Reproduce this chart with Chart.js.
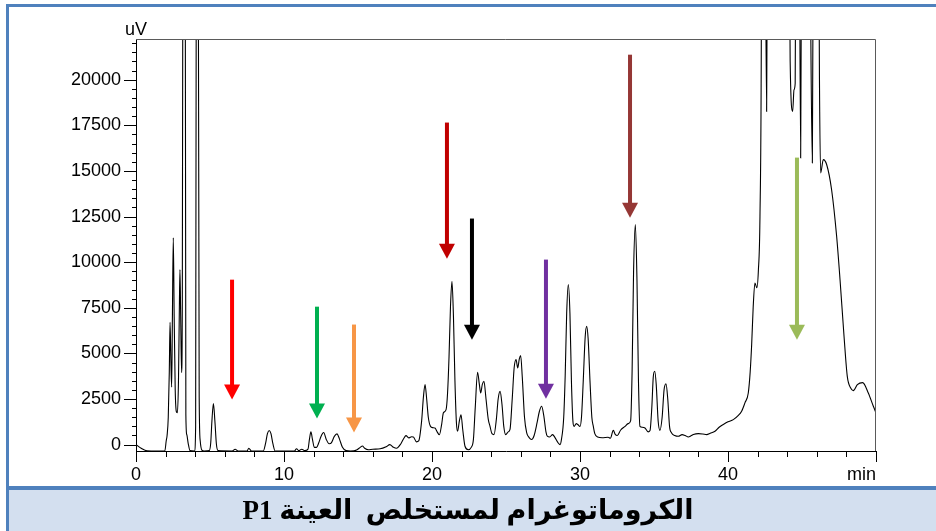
<!DOCTYPE html>
<html>
<head>
<meta charset="utf-8">
<script src="https://cdn.jsdelivr.net/npm/chart.js@4.4.1/dist/chart.umd.min.js"></script>
<style>
  html, body { margin: 0; padding: 0; background: #ffffff; }
  #wrap { position: relative; width: 936px; height: 531px; }
  canvas { display: block; }
</style>
</head>
<body>
<div id="wrap"><canvas id="chrom" width="936" height="531"></canvas></div>
<script>
// Retention time (min) of each sampled point of the trace
const retentionTimes = [
  0.00, 0.35, 0.75, 1.40, 1.95, 2.04, 2.10, 2.18, 2.25, 2.30, 2.36, 2.41, 2.46, 2.52, 2.58, 2.65,
  2.73, 2.80, 2.87, 2.93, 2.97, 3.02, 3.08, 3.13, 3.19, 3.25, 3.31, 3.37, 3.43, 3.52, 3.65, 3.95,
  4.03, 4.09, 4.14, 4.20, 4.27, 4.34, 4.45, 4.60, 4.95, 5.05, 5.13, 5.23, 5.33, 5.43, 5.55, 6.50,
  6.70, 6.90, 7.50, 7.62, 7.80, 8.60, 8.75, 8.88, 9.00, 9.12, 9.25, 9.40, 10.70, 10.85, 11.00, 11.20,
  11.40, 11.62, 11.72, 11.82, 11.92, 12.05, 12.20, 12.35, 12.50, 12.68, 12.85, 13.05, 13.20, 13.40, 13.58, 13.75,
  13.95, 14.20, 14.50, 14.90, 15.15, 15.30, 15.45, 15.70, 16.00, 16.50, 16.90, 17.15, 17.40, 17.60, 17.90, 18.10,
  18.24, 18.45, 18.62, 18.74, 18.95, 19.10, 19.30, 19.42, 19.53, 19.64, 19.75, 19.90, 20.05, 20.20, 20.35, 20.50,
  20.65, 20.77, 20.95, 21.05, 21.15, 21.25, 21.35, 21.45, 21.55, 21.65, 21.73, 21.85, 21.96, 22.08, 22.23, 22.45,
  22.65, 22.80, 22.92, 23.08, 23.20, 23.29, 23.40, 23.51, 23.65, 23.80, 23.92, 24.05, 24.19, 24.35, 24.47, 24.60,
  24.73, 24.85, 24.98, 25.15, 25.27, 25.42, 25.55, 25.68, 25.79, 25.90, 25.99, 26.10, 26.25, 26.40, 26.55, 26.73,
  26.90, 27.10, 27.25, 27.41, 27.55, 27.70, 27.79, 27.95, 28.15, 28.30, 28.53, 28.65, 28.75, 28.90, 29.00, 29.10,
  29.21, 29.32, 29.42, 29.52, 29.60, 29.75, 29.85, 30.00, 30.10, 30.22, 30.35, 30.45, 30.55, 30.68, 30.80, 30.90,
  31.00, 31.19, 31.50, 31.90, 32.05, 32.25, 32.38, 32.52, 32.75, 33.04, 33.25, 33.42, 33.52, 33.62, 33.74, 33.85,
  33.95, 34.05, 34.20, 34.39, 34.60, 34.73, 34.85, 34.95, 35.05, 35.15, 35.28, 35.40, 35.55, 35.68, 35.81, 35.93,
  36.05, 36.19, 36.40, 36.64, 36.90, 37.10, 37.32, 37.50, 37.66, 38.00, 38.30, 38.56, 38.80, 39.12, 39.40, 39.68,
  40.00, 40.36, 40.70, 40.92, 41.15, 41.37, 41.50, 41.60, 41.70, 41.82, 41.95, 42.05, 42.16, 42.25, 42.32, 42.45,
  42.61, 42.72, 42.85, 43.50, 44.05, 44.20, 44.37, 44.46, 44.54, 44.64, 44.70, 44.80, 44.91, 45.02, 45.20, 45.47,
  45.60, 45.70, 45.81, 45.95, 46.06, 46.18, 46.26, 46.44, 46.67, 47.00, 47.34, 47.57, 47.84, 48.06, 48.29, 48.47,
  48.74, 49.10, 49.48, 49.82, 50.00
];

// Detector signal (uV) at each retention time; peaks running past the top are estimated
const signalUV = [
  0, -200, -340, -350, -340, 200, 500, 1500, 4000, 6700, 4500, 3150, 7000, 11340, 7000, 3000,
  1800, 1750, 3500, 7500, 9590, 7000, 3950, 8000, 40000, 90000, 40000, 1600, 550, 100, -330, -350,
  1000, 40000, 90000, 30000, 2600, 200, -300, -350, -330, 100, 1300, 2250, 1300, 50, -330, -350,
  -250, -350, -350, -200, -350, -350, 50, 600, 770, 600, 50, -350, -350, -230, -330, -250,
  -330, -250, 300, 700, 300, -150, -150, 100, 450, 660, 300, 50, 100, 450, 590, 300,
  -150, -330, -350, -300, -150, -80, -200, -280, -250, -230, -120, 0, -150, -200, 50, 350,
  490, 370, 430, 420, 150, 200, 1300, 2600, 3290, 2500, 1500, 1000, 930, 910, 700, 540,
  1100, 1740, 1920, 2800, 4800, 7600, 8950, 7000, 3500, 1200, 730, 1300, 1640, 800, -90, -280,
  -150, 300, 2000, 3960, 3300, 2830, 3300, 3470, 2500, 1400, 1000, 600, 550, 1400, 2500, 2920,
  2200, 1000, 550, 700, 830, 2500, 4200, 4660, 4200, 4700, 4880, 3700, 1500, 640, 400, 280,
  500, 1200, 1800, 2100, 1600, 700, 460, 420, 550, 400, 90, 0, 300, 1500, 3800, 7200,
  8770, 7200, 3500, 1300, 1000, 1150, 1100, 1000, 1500, 3500, 5900, 6480, 5800, 3400, 1500, 1000,
  600, 420, 380, 400, 350, 780, 560, 500, 800, 1000, 1150, 1300, 4000, 9500, 12060, 9000,
  3500, 1000, 950, 910, 700, 770, 2000, 3700, 4020, 3300, 1300, 780, 1500, 3000, 3330, 2500,
  1000, 640, 500, 456, 550, 500, 420, 480, 550, 600, 580, 548, 620, 730, 950, 1100,
  1250, 1370, 1600, 1830, 2300, 2830, 4000, 5500, 7500, 8860, 8600, 9500, 12500, 22000, 50000, 40000,
  18260, 40000, 70000, 70000, 40000, 21000, 18260, 19450, 19800, 40000, 60000, 35000, 15710, 40000, 70000, 40000,
  22000, 15440, 40000, 70000, 40000, 20000, 14890, 15620, 15340, 13970, 11420, 9040, 5940, 3740, 3100, 2960,
  3290, 3400, 2830, 2100, 1740
];

// Marked compounds: retention time, arrow start (uV) and arrow tip (uV)
const markerTimes = [6.49, 12.23, 14.73, 21.01, 22.70, 27.70, 33.38, 44.66];
const markerFrom  = [9040, 7560, 6580, 17650, 12390, 10140, 21370, 15730];
const markerTo    = [2470, 1430, 660, 10190, 5750, 2520, 12440, 5750];
const markerColors = ['#FF0000', '#00B050', '#F79646', '#C00000', '#000000', '#7030A0', '#953735', '#9BBB59'];

// Axis settings: labelled ticks every 10 min / 2500 uV, minor marks every 2 min / 500 uV
const xMin = 0, xMax = 50, xStep = 2, xLabelEvery = 10;
const yMin = -350, yMax = 22230, yStep = 500, yLabelEvery = 2500;
const xUnit = 'min', yUnit = 'uV';
const chartTitle = '\u202Bالكروماتوغرام لمستخلص  العينة P1\u202C';

const FONT = "'Liberation Sans', Arial, sans-serif";
Chart.defaults.font.family = FONT;
Chart.defaults.color = '#000000';

const points = retentionTimes.map((t, i) => ({ x: t, y: signalUV[i] }));

function stepTicks(lo, hi, step) {
  const out = [];
  for (let v = Math.ceil(lo / step) * step; v <= hi; v += step) out.push({ value: v });
  return out;
}

const decor = {
  id: 'decor',
  beforeDraw(chart) {
    const c = chart.ctx;
    c.save();
    c.fillStyle = '#ffffff';
    c.fillRect(0, 0, chart.width, chart.height);
    // caption band
    c.fillStyle = '#D3DFEF';
    c.fillRect(9, 490, chart.width - 9, chart.height - 490);
    // page frame
    c.fillStyle = '#4F81BD';
    c.fillRect(6, 486, chart.width - 6, 4);
    c.fillRect(6, 4, chart.width - 6, 3);
    c.fillRect(6, 4, 3, chart.height - 4);
    c.restore();
  },
  afterDatasetsDraw(chart) {
    const c = chart.ctx;
    const xs = chart.scales.x, ys = chart.scales.y;
    c.save();
    markerTimes.forEach((t, i) => {
      const x = xs.getPixelForValue(t);
      const y0 = ys.getPixelForValue(markerFrom[i]);
      const y1 = ys.getPixelForValue(markerTo[i]);
      const headH = 15, headW = 16, shaft = 4;
      c.fillStyle = markerColors[i];
      c.fillRect(x - shaft / 2, y0, shaft, (y1 - headH) - y0 + 1);
      c.beginPath();
      c.moveTo(x - headW / 2, y1 - headH);
      c.lineTo(x + headW / 2, y1 - headH);
      c.lineTo(x, y1);
      c.closePath();
      c.fill();
    });
    c.restore();
  },
  afterDraw(chart) {
    const c = chart.ctx;
    const a = chart.chartArea;
    const xs = chart.scales.x, ys = chart.scales.y;
    c.save();
    // plot frame (top and right)
    c.strokeStyle = '#5a5a5a';
    c.lineWidth = 1;
    c.beginPath();
    c.moveTo(a.left, a.top + 0.5);
    c.lineTo(a.right - 0.5, a.top + 0.5);
    c.lineTo(a.right - 0.5, a.bottom);
    c.stroke();
    // tick marks
    c.strokeStyle = '#000000';
    c.beginPath();
    stepTicks(yMin, yMax, yStep).forEach(tk => {
      const y = Math.round(ys.getPixelForValue(tk.value)) + 0.5;
      const major = tk.value % yLabelEvery === 0;
      c.moveTo(a.left - (major ? 12 : 4), y);
      c.lineTo(a.left + 1, y);
    });
    stepTicks(xMin, xMax, xStep).forEach(tk => {
      const x = Math.round(xs.getPixelForValue(tk.value)) + 0.5;
      const major = tk.value % xLabelEvery === 0;
      c.moveTo(x, a.bottom + 1);
      c.lineTo(x, a.bottom + (major ? 11 : 6));
    });
    c.stroke();
    // unit labels
    c.fillStyle = '#000000';
    c.font = '18px ' + FONT;
    c.textBaseline = 'alphabetic';
    c.textAlign = 'center';
    c.fillText(yUnit, a.left, 35);
    c.textAlign = 'right';
    c.fillText(xUnit, a.right, 480);
    c.restore();
  }
};

new Chart(document.getElementById('chrom'), {
  type: 'line',
  data: {
    datasets: [{
      data: points,
      borderColor: '#000000',
      borderWidth: 1.1,
      pointRadius: 0,
      fill: false,
      cubicInterpolationMode: 'monotone'
    }]
  },
  options: {
    responsive: false,
    animation: false,
    devicePixelRatio: 1,
    layout: { padding: { top: 39, left: 0, right: 0, bottom: 0 } },
    plugins: {
      legend: { display: false },
      tooltip: { enabled: false },
      title: {
        display: true,
        position: 'bottom',
        text: chartTitle,
        color: '#000000',
        font: { family: "'Liberation Serif', 'DejaVu Sans', serif", size: 27, weight: 'bold' },
        padding: { top: 6, bottom: 3 }
      }
    },
    scales: {
      x: {
        type: 'linear',
        min: xMin, max: xMax,
        grid: { display: false, drawTicks: false },
        border: { display: true, color: '#000000', width: 1 },
        ticks: {
          autoSkip: false,
          maxRotation: 0,
          padding: 13,
          font: { size: 18 },
          callback: v => (v < xMax) ? String(v) : ''
        },
        afterBuildTicks: s => { s.ticks = stepTicks(xMin, xMax, xLabelEvery); },
        afterFit: s => { s.height = 531 - 451 - (27 * 1.2 + 9); }
      },
      y: {
        type: 'linear',
        position: 'left',
        min: yMin, max: yMax,
        grid: { display: false, drawTicks: false },
        border: { display: true, color: '#000000', width: 1 },
        ticks: {
          autoSkip: false,
          padding: 15,
          font: { size: 18 },
          callback: v => String(v)
        },
        afterBuildTicks: s => { s.ticks = stepTicks(0, yMax, yLabelEvery); },
        afterFit: s => { s.width = 136; }
      },
      side: {
        type: 'linear',
        position: 'right',
        display: true,
        grid: { display: false, drawTicks: false },
        border: { display: false },
        ticks: { display: false },
        afterFit: s => { s.width = 60; }
      }
    }
  },
  plugins: [decor]
});
</script>
</body>
</html>
